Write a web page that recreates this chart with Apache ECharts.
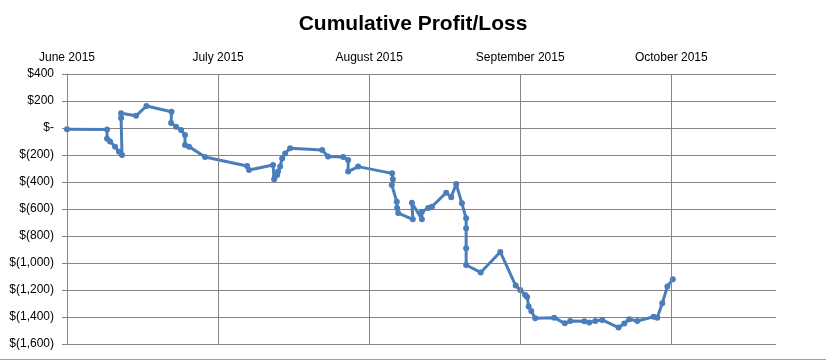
<!DOCTYPE html>
<html>
<head>
<meta charset="utf-8">
<script src="https://cdn.jsdelivr.net/npm/echarts@6/dist/echarts.min.js"></script>
<style>html,body{margin:0;padding:0;background:#fff;}#c{width:826px;height:360px;}</style>
</head>
<body>
<div id="c"></div>
<script>
// Month tick labels (x axis positions 0..4)
const monthLabels = ['June 2015', 'July 2015', 'August 2015', 'September 2015', 'October 2015'];
// Position of each trade along the axis, in months since 1 June 2015
const monthPos = [
  0.000, 0.265, 0.265, 0.285, 0.318, 0.344, 0.364, 0.358, 0.358, 0.457,
  0.526, 0.692, 0.689, 0.722, 0.755, 0.781, 0.781, 0.808, 0.914, 1.192,
  1.205, 1.364, 1.371, 1.377, 1.391, 1.397, 1.411, 1.424, 1.444, 1.477,
  1.689, 1.728, 1.828, 1.861, 1.861, 1.927, 2.152, 2.157, 2.150, 2.183,
  2.185, 2.192, 2.289, 2.283, 2.349, 2.349, 2.391, 2.415, 2.510, 2.543,
  2.576, 2.614, 2.642, 2.642, 2.642, 2.642, 2.738, 2.868, 2.970, 3.000,
  3.033, 3.046, 3.056, 3.073, 3.099, 3.225, 3.295, 3.331, 3.424, 3.457,
  3.497, 3.543, 3.651, 3.689, 3.722, 3.775, 3.883, 3.907, 3.940, 3.974,
  4.010
];
// Cumulative profit/loss in dollars
const cumPL = [
  -10, -12, -80, -100, -138, -175, -200, 75, 110, 90,
  163, 121, 37, 10, -15, -52, -126, -138, -215, -281,
  -311, -274, -380, -360, -348, -323, -286, -225, -188, -150,
  -163, -212, -215, -237, -323, -286, -336, -380, -422, -546,
  -593, -630, -676, -553, -676, -620, -593, -583, -479, -513,
  -415, -558, -669, -743, -891, -1015, -1070, -918, -1167, -1200,
  -1237, -1252, -1323, -1356, -1410, -1405, -1447, -1430, -1432, -1441,
  -1430, -1422, -1478, -1448, -1417, -1430, -1398, -1405, -1299, -1174,
  -1120
];
// Month gridline positions
const monthGrid = [1, 2, 3, 4];

const seriesData = monthPos.map((x, i) => [x, cumPL[i]]);

function fmtMoney(v) {
  if (v === 0) return '$-';
  const s = Math.abs(v).toLocaleString('en-US');
  return v < 0 ? '$(' + s + ')' : '$' + s;
}

const gridColor = '#868686';
const chart = echarts.init(document.getElementById('c'), null, {renderer: 'canvas'});
chart.setOption({
  animation: false,
  backgroundColor: '#ffffff',
  title: {
    text: 'Cumulative Profit/Loss',
    left: 'center',
    top: 9,
    textStyle: {fontFamily: 'Liberation Sans', fontWeight: 'bold', fontSize: 21, color: '#000'}
  },
  grid: {left: 67, right: 50, top: 74, bottom: 16, containLabel: false},
  xAxis: {
    type: 'value',
    position: 'top',
    min: 0,
    max: 4.693,
    interval: 1,
    axisLine: {show: false},
    axisTick: {show: true, length: 4, lineStyle: {color: gridColor}},
    splitLine: {show: false},
    axisLabel: {
      margin: 10,
      showMaxLabel: false,
      fontFamily: 'Liberation Sans',
      fontSize: 12,
      color: '#000',
      formatter: v => (Number.isInteger(v) && monthLabels[v] !== undefined) ? monthLabels[v] : ''
    }
  },
  yAxis: {
    type: 'value',
    min: -1600,
    max: 400,
    interval: 200,
    axisLine: {show: true, lineStyle: {color: gridColor}},
    axisTick: {show: true, length: 5, lineStyle: {color: gridColor}},
    splitLine: {show: true, lineStyle: {color: gridColor, width: 1}},
    axisLabel: {
      margin: 13,
      fontFamily: 'Liberation Sans',
      fontSize: 12,
      color: '#000',
      formatter: fmtMoney
    }
  },
  series: [{
    type: 'line',
    z: 1,
    data: [],
    silent: true,
    markLine: {
      silent: true,
      symbol: 'none',
      label: {show: false},
      lineStyle: {color: gridColor, width: 1, type: 'solid'},
      data: monthGrid.map(m => ({xAxis: m}))
    }
  }, {
    type: 'line',
    z: 3,
    data: seriesData,
    showSymbol: true,
    symbol: 'circle',
    symbolSize: 6,
    lineStyle: {color: '#4A7EBB', width: 3},
    itemStyle: {color: '#4A7EBB'}
  }],
  graphic: [{
    type: 'line',
    shape: {x1: 0, y1: 359.5, x2: 826, y2: 359.5},
    style: {stroke: '#a0a0a0', lineWidth: 1}
  }]
});
</script>
</body>
</html>
